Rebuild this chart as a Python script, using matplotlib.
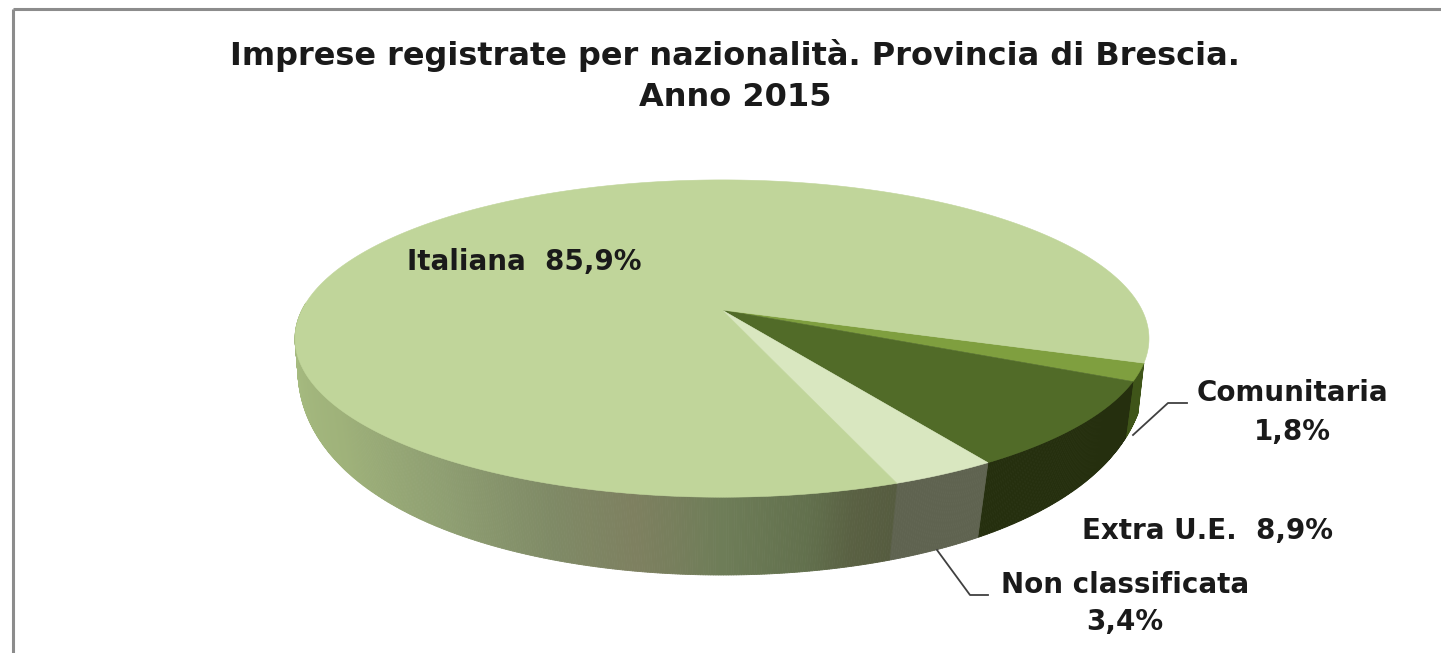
import matplotlib
matplotlib.use('Agg')
import matplotlib.pyplot as plt
import numpy as np
from matplotlib.collections import PolyCollection
from matplotlib.colors import to_rgb

# data, clockwise from the right hand edge of the pie
names = ['Comunitaria', 'Extra U.E.', 'Non classificata', 'Italiana']
shares = [1.8, 8.9, 3.4, 85.9]
top_colors = ['#7f9f3f', '#516b28', '#d9e7c0', '#c0d59a']
wall_colors = ['#3f5519', '#252f0e', '#5f6350', None]

# shading of the Italiana wall, by angle (degrees)
wall_angles = [-70, -75, -80, -90, -100, -110, -125, -145, -170, -200]
wall_shades = ['#565c40', '#5a6143', '#62704d', '#6e7d58', '#7e8060', '#7f8a66', '#8f9f72', '#9fb27a', '#a6bb80', '#a6bb80']

START_ANGLE = -19.0


# top face of the pie: perspective map of the unit disc to pixel positions
def top(theta):
    u = np.cos(theta)
    v = np.sin(theta)
    w = 1 + 0.18 * v
    return 722 + 420 * u / w, 310 - 153.5 * v / w


# lower rim, fitted by hand to the outline
def bottom(theta):
    u = np.cos(theta)
    v = np.sin(theta)
    w = 1 + 0.14 * v
    return 722 + 420 * u / w, 335 - 240 * v


fig = plt.figure(figsize=(14.41, 6.53), dpi=100)
ax = fig.add_axes([0, 0, 1, 1])
ax.set_xlim(0, 1441)
ax.set_ylim(653, 0)
ax.axis('off')

# chart frame, cut off at the right and at the bottom
ax.plot([13, 13], [653, 9], color='#8c8c8c', lw=2.2, solid_capstyle='butt')
ax.plot([13, 1441], [9, 9], color='#8c8c8c', lw=2.2, solid_capstyle='butt')

# slice limits from the shares
edges = START_ANGLE - np.concatenate([[0], np.cumsum(shares)]) * 3.6

# side wall first, the top covers whatever is behind
for i in range(len(shares)):
    th = np.radians(np.linspace(edges[i], edges[i + 1], int(shares[i] * 12) + 4))
    # only the front of the pie, the bit of Italiana past the right edge does not show
    th = th[(np.sin(th) < 0.05) & (th > np.radians(-200))]
    quads = []
    cols = []
    for t0, t1 in zip(th[:-1], th[1:]):
        x0, y0 = top(t0)
        x1, y1 = top(t1)
        x2, y2 = bottom(t1)
        x3, y3 = bottom(t0)
        quads.append([(x0, y0), (x1, y1), (x2, y2), (x3, y3)])
        if wall_colors[i] is None:
            mid = np.degrees(0.5 * (t0 + t1))
            rgb = [np.interp(-mid, -np.array(wall_angles), [to_rgb(c)[k] for c in wall_shades]) for k in range(3)]
            cols.append(rgb)
        else:
            cols.append(to_rgb(wall_colors[i]))
    ax.add_collection(PolyCollection(quads, facecolors=cols, edgecolors=cols, linewidths=0.6))

# top face
for i in range(len(shares)):
    th = np.radians(np.linspace(edges[i], edges[i + 1], int(shares[i] * 12) + 4))
    x, y = top(th)
    ax.fill(np.r_[722, x], np.r_[310, y], color=top_colors[i], lw=0.4)

# leader lines
ax.plot([1133, 1168, 1187], [435, 403, 403], color='#404040', lw=1.3)
ax.plot([937, 970, 988], [550, 595, 595], color='#404040', lw=1.3)

ink = '#1a1a1a'
ax.text(735, 56, 'Imprese registrate per nazionalità. Provincia di Brescia.', ha='center', va='center',
        fontsize=23, fontweight='bold', color=ink)
ax.text(735, 97, 'Anno 2015', ha='center', va='center', fontsize=23, fontweight='bold', color=ink)

lab = dict(ha='center', va='center', fontsize=20, fontweight='bold', color=ink)
ax.text(524, 262, 'Italiana  85,9%', **lab)
ax.text(1292, 393, 'Comunitaria', **lab)
ax.text(1292, 432, '1,8%', **lab)
ax.text(1208, 531, 'Extra U.E.  8,9%', **lab)
ax.text(1125, 585, 'Non classificata', **lab)
ax.text(1125, 622, '3,4%', **lab)

fig.savefig('out.png', dpi=100)
